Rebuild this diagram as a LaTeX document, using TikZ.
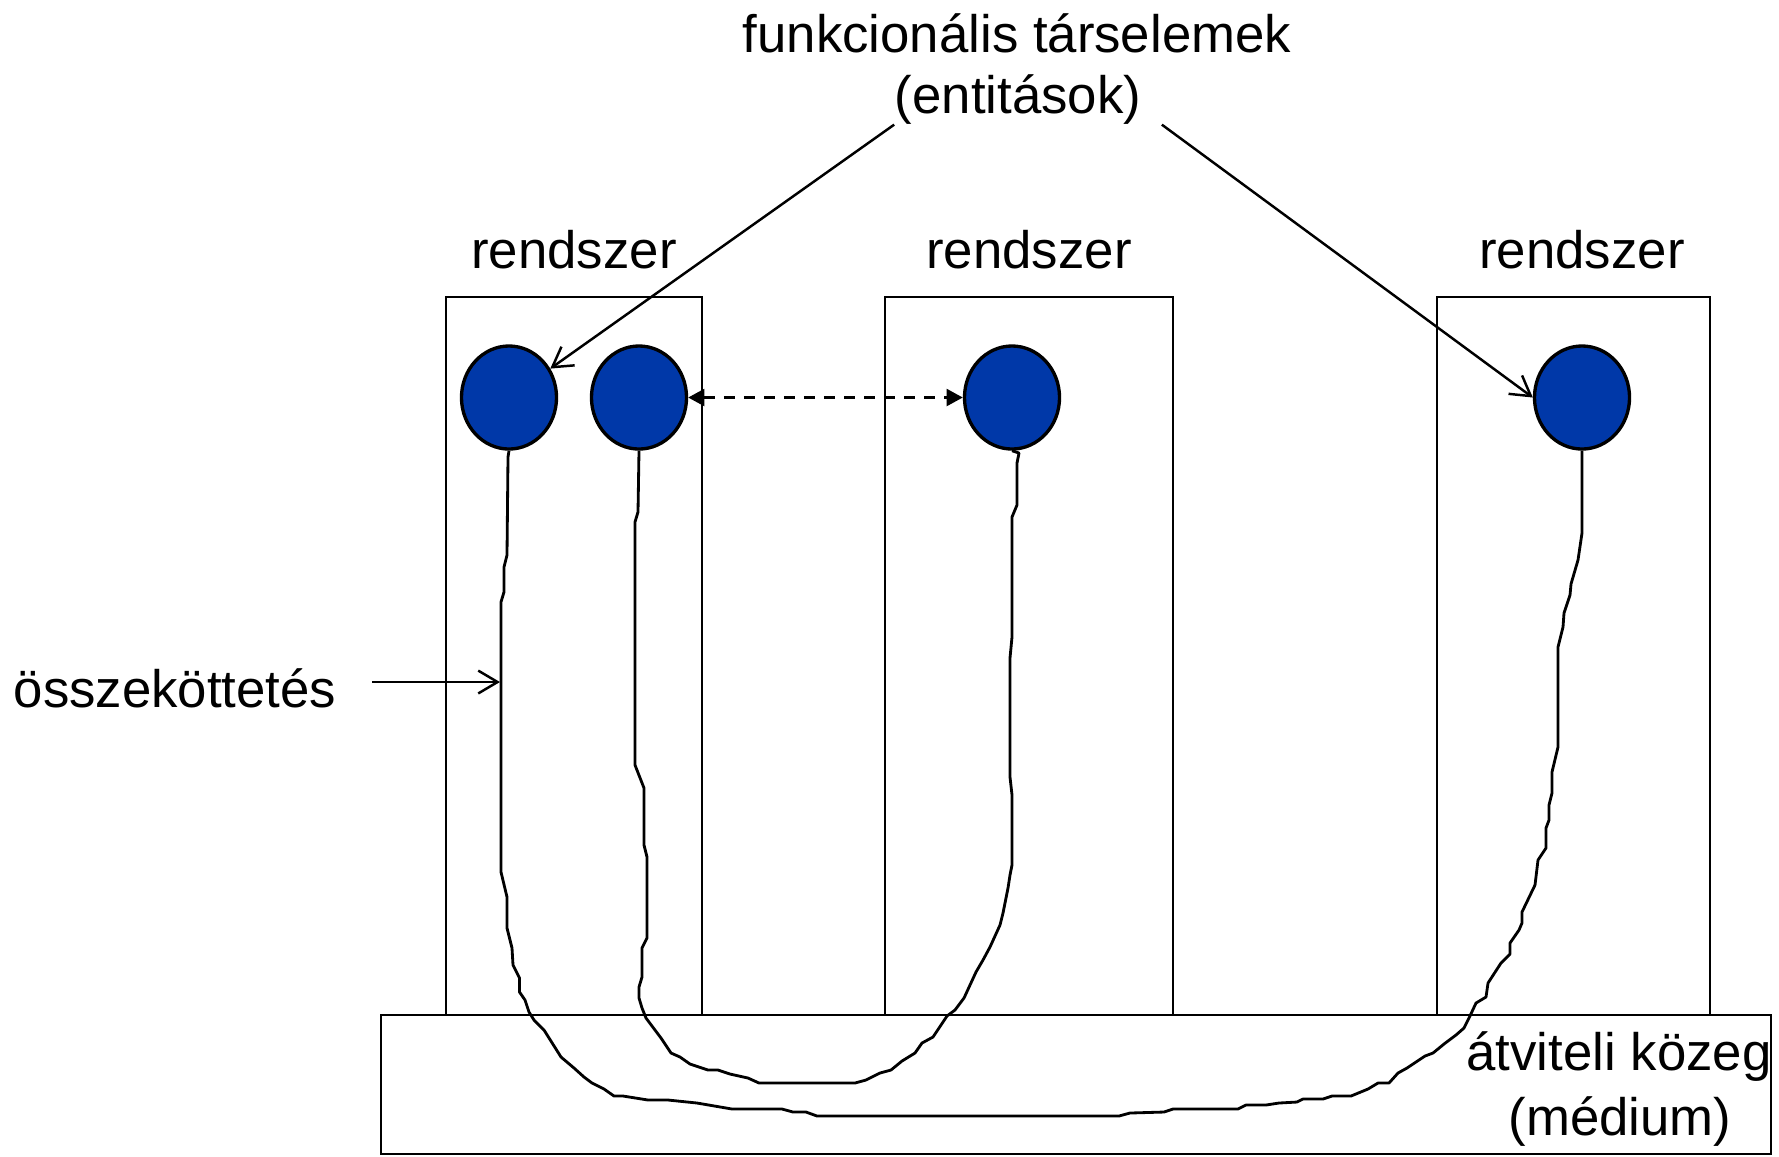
\documentclass[tikz,border=0pt]{standalone}
\usepackage{fontspec}
\setmainfont{Liberation Sans}
\usetikzlibrary{arrows.meta}
\usetikzlibrary{shapes.geometric}

\definecolor{entityblue}{RGB}{0,56,168}

\begin{document}
\begin{tikzpicture}[x=0.01cm,y=-0.01cm,
    every node/.style={font=\fontsize{15}{18}\selectfont,inner sep=0pt},
    box/.style={line width=0.75pt},
    entity/.style={ellipse,draw,line width=0.95pt,fill=entityblue,minimum width=0.95cm,minimum height=1.03cm},
    wire/.style={line width=0.8pt,line join=round},
    pointer/.style={line width=0.7pt,-{Straight Barb[length=5.5pt,width=6.5pt]}},
    link/.style={line width=0.75pt,dash pattern=on 3.1pt off 2.6pt,{Triangle[length=4.6pt,width=4.8pt]}-{Triangle[length=4.6pt,width=4.8pt]}}]
  % Constants
  \pgfmathsetmacro\row{397.5}
  % Boundary
  \useasboundingbox (0,0) rectangle (1779,1156);
  % Systems and medium
  \draw[box] (446,297) rectangle (702,1015);
  \draw[box] (885,297) rectangle (1173,1015);
  \draw[box] (1437,297) rectangle (1710,1015);
  \draw[box] (381,1015) rectangle (1771,1154);
  \node[anchor=base] (sys1) at (574,268) {rendszer};
  \node[anchor=base] (sys2) at (1029,268) {rendszer};
  \node[anchor=base] (sys3) at (1582,268) {rendszer};
  \node[anchor=base] (med1) at (1619,1070) {átviteli közeg};
  \node[anchor=base] (med2) at (1620,1135) {(médium)};
  % Entities
  \node[entity] (e1) at (509,\row) {};
  \node[entity] (e2) at (639,\row) {};
  \node[entity] (e3) at (1012,\row) {};
  \node[entity] (e4) at (1582,\row) {};
  % Labels
  \node[anchor=base] (title) at (1017,52) {funkcionális társelemek};
  \node[anchor=base] (ent) at (1018,113) {(entitások)};
  \node[anchor=base east] (conn) at (337,707) {összeköttetés};
  % Wires
  \draw[wire] (e1.south) -- (508,457) -- (507,555) -- (504,567) -- (504,592) -- (501,602)
    -- (501,872) -- (507,897) -- (507,928) -- (512,948) -- (513,965) -- (519.5,978)
    -- (519.5,992) -- (525,1000) -- (529,1012) -- (534,1020) -- (544,1030) -- (561,1057)
    -- (574,1068) -- (584,1077) -- (592,1083) -- (604,1089) -- (614,1096) -- (623,1096)
    -- (648,1100) -- (668,1100) -- (697,1103) -- (732,1109) -- (782,1109) -- (793,1112)
    -- (806,1112) -- (817,1116) -- (1119,1116) -- (1130,1113) -- (1164,1112) -- (1173,1109)
    -- (1238,1109) -- (1246,1105) -- (1266,1105) -- (1279,1103) -- (1297,1102) -- (1303,1099)
    -- (1323,1099) -- (1332,1096) -- (1351,1096) -- (1368,1089) -- (1378,1083) -- (1389,1083)
    -- (1398,1073) -- (1407,1068) -- (1425,1056) -- (1433,1053) -- (1444,1044) -- (1456,1035)
    -- (1464,1028) -- (1469,1018) -- (1476,1003) -- (1486,997) -- (1488,983) -- (1501,963)
    -- (1510,954) -- (1510,943) -- (1519,930) -- (1522,923) -- (1522,912) -- (1535,885)
    -- (1538,860) -- (1546,848) -- (1546,828) -- (1549,820) -- (1549,805) -- (1552,793)
    -- (1552,772) -- (1558,747) -- (1558,647) -- (1563,627) -- (1564,613) -- (1570,595)
    -- (1571,584) -- (1578,560) -- (1582,533) -- (e4.south);
  \draw[wire] (e2.south) -- (638,512) -- (635,522) -- (635,765) -- (644,788) -- (644,845)
    -- (647,857) -- (647,938) -- (642,948) -- (642,977) -- (639,987) -- (639,998)
    -- (642,1008) -- (646,1018) -- (661,1038) -- (671,1053) -- (680,1057) -- (690,1064)
    -- (708,1070) -- (718,1070) -- (730,1074) -- (748,1078) -- (759,1083) -- (855,1083)
    -- (866,1080) -- (880,1073) -- (891,1070) -- (902,1061) -- (915,1053) -- (922,1043)
    -- (933,1037) -- (947,1016) -- (955,1010) -- (964,998) -- (976,972) -- (983,960)
    -- (990,947) -- (1000,925) -- (1003,913) -- (1008,888) -- (1010,875) -- (1012,865)
    -- (1012,795) -- (1010,777) -- (1010,658) -- (1012,637) -- (1012,517) -- (1017,505)
    -- (1017,463) -- (1019,453) -- (e3.south);
  \coordinate (wiretap) at (500,682);
  % Arrows
  \draw[link] (e2.east) -- (e3.west);
  \draw[pointer] (ent.south west) -- (e1.35);
  \draw[pointer] ([xshift=0.2cm]ent.south east) -- (e4.west);
  \draw[pointer] ([xshift=0.35cm]wiretap -| conn.east) -- (wiretap);
\end{tikzpicture}
\end{document}
